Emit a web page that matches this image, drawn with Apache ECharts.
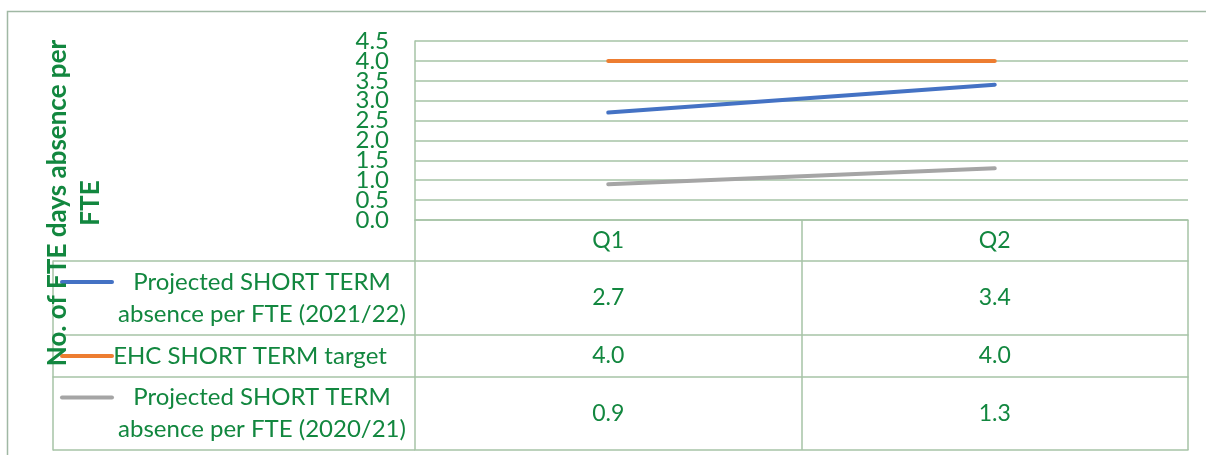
<!DOCTYPE html>
<html>
<head>
<meta charset="utf-8">
<style>
  html, body { margin: 0; padding: 0; background: #fff; }
  #chart { width: 1206px; height: 455px; }
</style>
<script src="https://cdn.jsdelivr.net/npm/echarts@6/dist/echarts.min.js"></script>
</head>
<body>
<div id="chart"></div>
<script>
// data
const categories = ['Q1', 'Q2']
const seriesNames = [
  'Projected SHORT TERM\nabsence per FTE (2021/22)',
  'EHC SHORT TERM target',
  'Projected SHORT TERM\nabsence per FTE (2020/21)'
]
const projected2122 = [2.7, 3.4]
const ehcTarget = [4.0, 4.0]
const projected2021 = [0.9, 1.3]
const seriesValues = [projected2122, ehcTarget, projected2021]
const seriesColors = ['#4472c4', '#ed7d31', '#a5a5a5']
const yMin = 0
const yMax = 4.5
const yStep = 0.5
const yTitle = 'No. of FTE days absence per\nFTE'

const green = '#12873f'
const rule = '#a6c3a6'
const font = 'Lato, "Open Sans", sans-serif'

// table layout (row edges in px)
const tableLeft = 53
const plotLeft = 415
const plotRight = 18
const rowEdges = [220, 261, 335, 377, 450]

const chart = echarts.init(document.getElementById('chart'))

const tickLabel = { margin: 26, color: green, fontFamily: font, fontSize: 24 }

const grids = [{ left: plotLeft, right: plotRight, top: 41, height: 179 }]
const xAxes = [{
  type: 'category',
  gridIndex: 0,
  data: categories,
  boundaryGap: true,
  axisLine: { show: true, lineStyle: { color: rule, width: 1.5 } },
  axisTick: { show: false },
  axisLabel: { show: false },
  splitLine: { show: false }
}]
const yAxes = [
  {
    type: 'value',
    gridIndex: 0,
    position: 'left',
    min: yMin,
    max: yMax,
    interval: yStep,
    axisLine: { show: true, lineStyle: { color: rule, width: 1.5 } },
    axisTick: { show: false },
    axisLabel: Object.assign({}, tickLabel, {
      showMinLabel: false,
      showMaxLabel: false,
      formatter: v => v.toFixed(1)
    }),
    splitLine: { show: true, lineStyle: { color: rule, width: 1.5 } }
  },
  // end labels (0.0 and 4.5) sit tight against their neighbours, so they get their own axis
  {
    type: 'value',
    gridIndex: 0,
    position: 'left',
    offset: 0,
    min: yMin,
    max: yMax,
    interval: yStep,
    axisLine: { show: false },
    axisTick: { show: false },
    splitLine: { show: false },
    axisLabel: Object.assign({}, tickLabel, {
      showMinLabel: true,
      showMaxLabel: true,
      formatter: v => (v === yMin || v === yMax) ? v.toFixed(1) : ''
    })
  }
]

// table rows: header + one per series
for (let r = 0; r < 4; r++) {
  const top = rowEdges[r]
  const h = rowEdges[r + 1] - rowEdges[r]
  const gi = r + 1
  grids.push({ left: plotLeft, right: plotRight, top: top, height: h })
  xAxes.push({
    type: 'category',
    gridIndex: gi,
    data: categories,
    boundaryGap: true,
    axisLine: { show: true, lineStyle: { color: rule, width: 1.5 } },
    axisTick: { show: false },
    splitLine: { show: true, lineStyle: { color: rule, width: 1.5 } },
    axisLabel: {
      inside: true,
      margin: h / 2,
      verticalAlign: 'middle',
      color: green,
      fontFamily: font,
      fontSize: 23,
      formatter: (v, i) => r === 0 ? v : seriesValues[r - 1][i].toFixed(1)
    }
  })
  if (r === 0) {
    yAxes.push({
      type: 'category', gridIndex: gi, data: [''],
      axisLine: { show: false }, axisTick: { show: false }, axisLabel: { show: false }
    })
    continue
  }
  const s = r - 1
  const lines = seriesNames[s].split('\n')
  const label = lines.length > 1
    ? '{key|}{gap|}{t|' + lines[0] + '}\n{sp|}{t|' + lines[1] + '}'
    : '{key|}{gap|}{l|' + lines[0] + '}{pad|}'
  yAxes.push({
    type: 'category',
    gridIndex: gi,
    position: 'left',
    data: [seriesNames[s]],
    boundaryGap: true,
    axisLine: { show: false },
    axisTick: { show: true, length: plotLeft - tableLeft, lineStyle: { color: rule, width: 1.5 } },
    axisLabel: {
      margin: 9,
      formatter: () => label,
      rich: {
        key: { width: 54, height: 4, backgroundColor: seriesColors[s], borderRadius: 2 },
        gap: { width: 4 },
        sp: { width: 58 },
        t: { width: 288, align: 'center', color: green, fontFamily: font, fontSize: 24, lineHeight: 32 },
        l: { width: 264, align: 'center', color: green, fontFamily: font, fontSize: 24, lineHeight: 32 },
        pad: { width: 24 }
      }
    }
  })
  // left border of the legend column
  yAxes.push({
    type: 'category',
    gridIndex: gi,
    position: 'left',
    data: [''],
    offset: plotLeft - tableLeft,
    axisLine: { show: true, lineStyle: { color: rule, width: 1.5 } },
    axisTick: { show: false },
    axisLabel: { show: false }
  })
}

const option = {
  animation: false,
  backgroundColor: '#fff',
  grid: grids,
  xAxis: xAxes,
  yAxis: yAxes,
  graphic: [
    {
      type: 'rect',
      silent: true,
      shape: { x: 7.5, y: 11.5, width: 1400, height: 600 },
      style: { fill: null, stroke: '#a0b8a4', lineWidth: 1.5 },
      z: -10
    },
    {
      type: 'text',
      x: 74,
      y: 203,
      rotation: Math.PI / 2,
      z: 100,
      style: {
        text: yTitle,
        fill: green,
        font: 'bold 26px ' + font,
        align: 'center',
        verticalAlign: 'middle',
        lineHeight: 33
      }
    }
  ],
  series: seriesValues.map((vals, i) => ({
    name: seriesNames[i],
    type: 'line',
    xAxisIndex: 0,
    yAxisIndex: 0,
    data: vals,
    symbol: 'none',
    lineStyle: { color: seriesColors[i], width: 4, cap: 'round' },
    itemStyle: { color: seriesColors[i] }
  }))
}

chart.setOption(option)
</script>
</body>
</html>
